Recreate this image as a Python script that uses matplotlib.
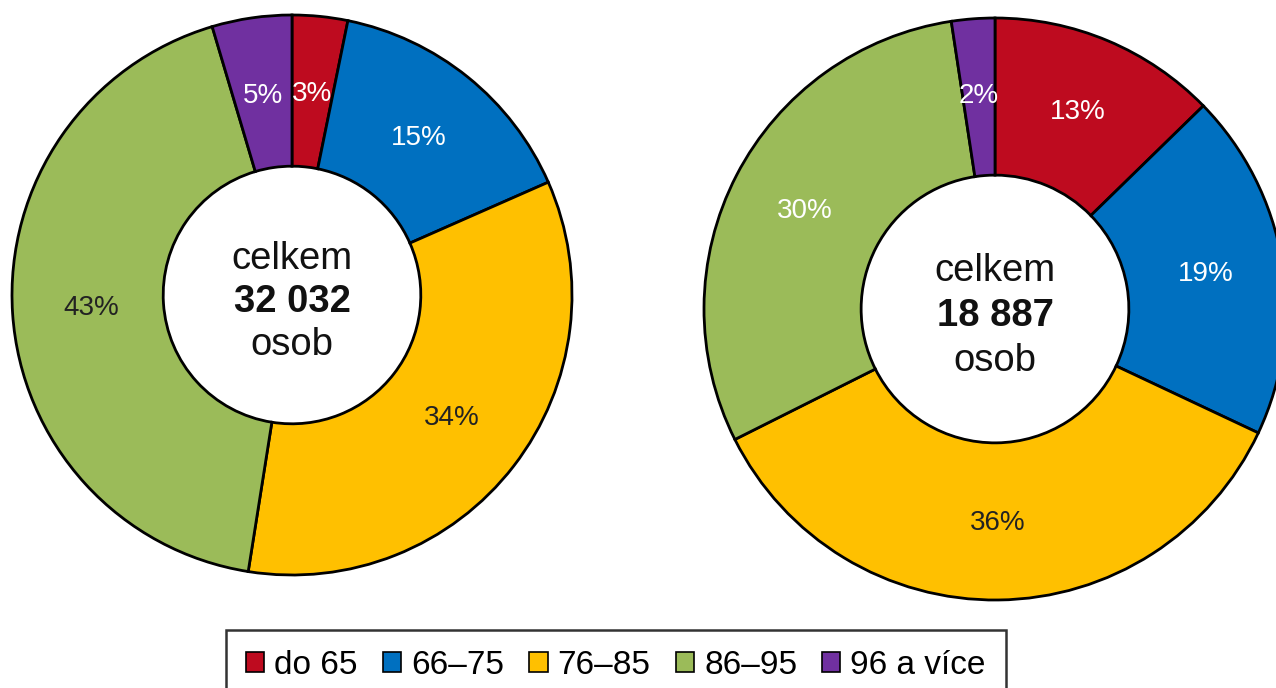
import matplotlib
matplotlib.use('Agg')
import matplotlib.pyplot as plt
from matplotlib.patches import Patch

plt.rcParams['font.family'] = ['Liberation Sans', 'DejaVu Sans']

# age groups and colours
categories = ['do 65', '66–75', '76–85', '86–95', '96 a více']
colors = ['#BE0B1F', '#0070C0', '#FFC000', '#9BBB59', '#7030A0']

# shares in percent
left_values = [3.2, 15.2, 34.1, 42.9, 4.6]
right_values = [12.7, 19.3, 35.6, 30.0, 2.4]
left_total = '32 032'
right_total = '18 887'

# label colours per wedge
left_text_colors = ['white', 'white', '#222222', '#222222', 'white']
right_text_colors = ['white', 'white', '#222222', 'white', 'white']

W, H = 1276, 688
fig = plt.figure(figsize=(W / 100, H / 100), dpi=100)


def donut(cx, cy, r, values, text_colors, total, pctdist):
    ax = fig.add_axes([(cx - r) / W, 1 - (cy + r) / H, 2 * r / W, 2 * r / H])
    wedges, texts, autotexts = ax.pie(
        values, colors=colors, startangle=90, counterclock=False,
        radius=1, autopct=lambda p: f'{p:.0f}%', pctdistance=pctdist,
        wedgeprops=dict(width=0.54, edgecolor='black', linewidth=2.0),
        textprops=dict(fontsize=20))
    for w in wedges:
        w.set_clip_on(False)
    for t, c in zip(autotexts, text_colors):
        t.set_color(c)
    ax.text(0, 0.13, 'celkem', ha='center', va='center', fontsize=27.5, color='#111111')
    ax.text(0, -0.025, total, ha='center', va='center', fontsize=27.5,
            fontweight='bold', color='#111111')
    ax.text(0, -0.18, 'osob', ha='center', va='center', fontsize=27.5, color='#111111')
    ax.set_xlim(-1, 1)
    ax.set_ylim(-1, 1)
    ax.set_aspect('equal')
    ax.axis('off')
    return ax


donut(292, 295, 280, left_values, left_text_colors, left_total, 0.72)
donut(995, 309, 291, right_values, right_text_colors, right_total, 0.735)

handles = [Patch(facecolor=c, edgecolor='black', linewidth=1.2) for c in colors]
leg = fig.legend(handles, categories, loc='upper center',
                 bbox_to_anchor=(616 / W, 1 - 630 / H), ncol=5,
                 fontsize=24, frameon=True, fancybox=False,
                 handlelength=0.55, handleheight=0.55, handletextpad=0.3,
                 columnspacing=0.75, borderpad=0.6, borderaxespad=0)
leg.get_frame().set_edgecolor('black')
leg.get_frame().set_linewidth(1.8)

fig.savefig('out.png', dpi=100)
